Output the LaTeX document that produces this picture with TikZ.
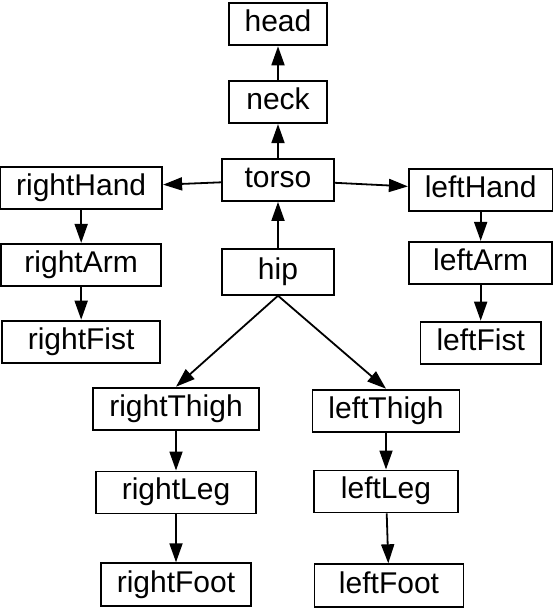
\documentclass[tikz,border=0pt]{standalone}
\usepackage{fontspec}
\setmainfont{Liberation Sans}
\usetikzlibrary{arrows.meta}
\usetikzlibrary{positioning}

\begin{document}
\begin{tikzpicture}[x=1pt, y=-1pt,
    every node/.style={rectangle, draw, line width=1.8pt, inner xsep=16pt, inner ysep=7pt,
        minimum width=98pt, minimum height=42pt, text height=21pt, text depth=6pt,
        font=\fontsize{30}{32}\selectfont},
    every path/.style={line width=1.8pt},
    link/.style={-{Triangle[length=19pt, width=13pt]}}]
    \useasboundingbox (0,0) rectangle (555,609);
    \node (torso) at (278,180) [minimum width=112pt] {torso};
    \node (neck) [above=34pt of torso] {neck};
    \node (head) [above=34pt of neck] {head};
    \node (hip) [below=46pt of torso, minimum width=112pt, minimum height=46pt] {hip};
    \node (rightHand) [left=58pt of torso, yshift=-8pt, minimum width=158pt] {rightHand};
    \node (rightArm) [below=33pt of rightHand, minimum width=160pt] {rightArm};
    \node (rightFist) [below=33pt of rightArm, minimum width=158pt] {rightFist};
    \node (leftHand) [right=73pt of torso, yshift=-10pt, minimum width=143pt] {leftHand};
    \node (leftArm) [below=29pt of leftHand, minimum width=143pt] {leftArm};
    \node (leftFist) [below=36pt of leftArm, minimum width=119pt] {leftFist};
    \node (rightThigh) [below=91pt of hip, xshift=-102pt, minimum width=158pt] {rightThigh};
    \node (rightLeg) [below=40pt of rightThigh, minimum width=160pt] {rightLeg};
    \node (rightFoot) [below=48pt of rightLeg, minimum width=148pt, minimum height=43pt] {rightFoot};
    \node (leftThigh) [below=93pt of hip, xshift=108pt, minimum width=142pt] {leftThigh};
    \node (leftLeg) [below=37pt of leftThigh, minimum width=144pt] {leftLeg};
    \node (leftFoot) [below=50pt of leftLeg, xshift=3pt, minimum width=149pt, minimum height=43pt] {leftFoot};
    \draw[link] (neck) -- (head);
    \draw[link] (torso) -- (neck);
    \draw[link] (hip) -- (torso);
    \draw[link] (torso) -- (rightHand);
    \draw[link] (torso) -- (leftHand);
    \draw[link] (rightHand) -- (rightArm);
    \draw[link] (rightArm) -- (rightFist);
    \draw[link] (leftHand) -- (leftArm);
    \draw[link] (leftArm) -- (leftFist);
    \draw[link] (hip.south) -- (rightThigh.north);
    \draw[link] (hip.south) -- (leftThigh.north);
    \draw[link] (rightThigh) -- (rightLeg);
    \draw[link] (rightLeg) -- (rightFoot);
    \draw[link] (leftThigh) -- (leftLeg);
    \draw[link] (leftLeg) -- (leftFoot);
\end{tikzpicture}
\end{document}
